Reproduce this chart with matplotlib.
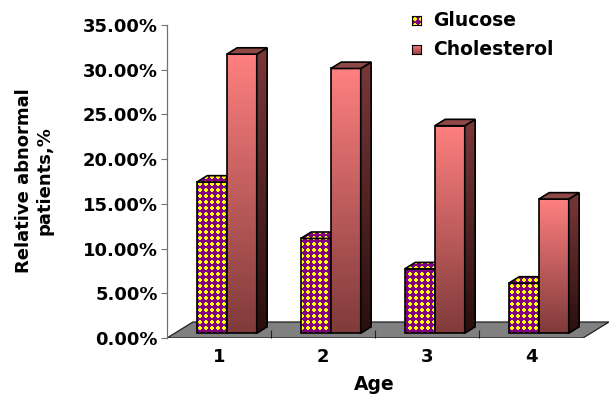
import numpy as np
import matplotlib
matplotlib.use('Agg')
import matplotlib.pyplot as plt
from matplotlib.patches import Polygon
from matplotlib.ticker import FixedLocator, StrMethodFormatter

ages = [1, 2, 3, 4]
glucose = [16.9, 10.6, 7.2, 5.6]
cholesterol = [31.2, 29.6, 23.2, 15.0]
yticks = [0, 5, 10, 15, 20, 25, 30, 35]

PURPLE = (128, 0, 128)
YELLOW = (255, 255, 0)
FONT = dict(family='DejaVu Sans', weight='bold')

W, H = 609, 396
fig = plt.figure(figsize=(W / 100, H / 100), dpi=100)
ax = fig.add_axes([167 / W, 1 - 338 / H, 442 / W, 313 / H])
XLIM, YLIM = (0.5, 4.75), (0, 35)
ax.set_xlim(*XLIM)
ax.set_ylim(*YLIM)


def px2data(dxp, dyp):
    inv = ax.transData.inverted()
    a, b = inv.transform([(0, 0), (dxp, dyp)])
    return b[0] - a[0], b[1] - a[1]


# purple / yellow dotted texture, one pixel per texel over the whole axes
ny, nx = 313, 442
yy, xx = np.mgrid[0:ny, 0:nx]
dots = (np.abs(xx % 6 - 2.5) + np.abs(yy % 6 - 2.5)) <= 2
texture = np.where(dots[..., None], np.array(YELLOW), np.array(PURPLE)).astype(np.uint8)


def vgrad(top, bottom, n=128):
    t = np.linspace(0, 1, n)[:, None]
    c = (1 - t) * np.array(top) + t * np.array(bottom)
    return (c[:, None, :] / 255.0)


def fill_face(verts, z, img=None, extent=None, color=None):
    poly = Polygon(verts, closed=True, facecolor=color if color else 'none',
                   edgecolor='black', lw=1.2, zorder=z + 0.01)
    ax.add_patch(poly)
    if img is not None:
        im = ax.imshow(img, extent=extent, origin='upper', aspect='auto',
                       interpolation='nearest' if img.dtype == np.uint8 else 'bilinear',
                       zorder=z)
        im.set_clip_path(poly)
    return poly


# floor
fdx, fdy = px2data(26, 16)
floor = Polygon([(0.5, 0), (4.5, 0), (4.5 + fdx, fdy), (0.5 + fdx, fdy)],
                closed=True, facecolor='#808080', edgecolor='#202020', lw=0.9, zorder=1)
ax.add_patch(floor)

bar_w = 0.288
near, far = 0.3, 0.7
sx, sy = near * fdx, near * fdy          # shift of bar front from floor front
dx, dy = (far - near) * fdx, (far - near) * fdy

chol_front = vgrad((255, 128, 128), (128, 58, 58))
chol_side = vgrad((122, 56, 56), (42, 14, 14))
chol_top = '#8e4848'

z = 3.0
for i, age in enumerate(ages):
    for k, (vals, kind) in enumerate([(glucose, 'g'), (cholesterol, 'c')]):
        x0 = age - bar_w + k * bar_w + sx
        x1 = x0 + bar_w
        y0 = sy
        y1 = y0 + vals[i]
        front = [(x0, y0), (x1, y0), (x1, y1), (x0, y1)]
        side = [(x1, y0), (x1 + dx, y0 + dy), (x1 + dx, y1 + dy), (x1, y1)]
        top = [(x0, y1), (x1, y1), (x1 + dx, y1 + dy), (x0 + dx, y1 + dy)]
        if kind == 'g':
            full = (XLIM[0], XLIM[1], YLIM[0], YLIM[1])
            fill_face(side, z, texture, full)
            fill_face(front, z + 0.1, texture, full)
            fill_face(top, z + 0.2, texture, full)
        else:
            fill_face(front, z, chol_front, (x0, x1, y0, y1))
            fill_face(side, z + 0.1, chol_side, (x1, x1 + dx, y0, y1 + dy))
            fill_face(top, z + 0.2, color=chol_top)
        z += 0.5

# axes styling
for s in ['top', 'right', 'bottom']:
    ax.spines[s].set_visible(False)
ax.spines['left'].set_color('#707070')
ax.spines['left'].set_linewidth(0.9)
ax.set_yticks(yticks)
ax.yaxis.set_major_formatter(StrMethodFormatter('{x:.2f}%'))
ax.tick_params(axis='y', direction='out', length=4, width=0.8, color='#707070',
               pad=2.5, labelsize=13)
ax.xaxis.set_major_locator(FixedLocator([1.5, 2.5, 3.5]))
ax.xaxis.set_minor_locator(FixedLocator(ages))
ax.xaxis.set_major_formatter(plt.NullFormatter())
ax.set_xticklabels([str(a) for a in ages], minor=True)
ax.tick_params(axis='x', which='major', direction='in', length=6, width=0.8, color='#202020')
ax.tick_params(axis='x', which='minor', length=0, pad=7, labelsize=13)
for lab in ax.get_yticklabels() + ax.get_xticklabels(minor=True):
    lab.set_fontweight('bold')

fig.text(34 / W, 1 - 181 / H, 'Relative abnormal\npatients,%', rotation=90,
         ha='center', va='center', multialignment='center', linespacing=1.2,
         fontsize=13, **FONT)
fig.text(374 / W, 1 - 385 / H, 'Age', ha='center', va='center', fontsize=13.5, **FONT)

# legend
leg_items = [('Glucose', 16), ('Cholesterol', 45)]
for label, ytop in leg_items:
    lax = fig.add_axes([412 / W, 1 - (ytop + 9) / H, 9 / W, 9 / H])
    if label == 'Glucose':
        lax.imshow(texture[:9, :9], interpolation='nearest', aspect='auto')
    else:
        lax.imshow(vgrad((250, 125, 125), (150, 65, 65)), interpolation='bilinear',
                   aspect='auto', extent=(0, 1, 0, 1))
    lax.set_xticks([])
    lax.set_yticks([])
    for s in lax.spines.values():
        s.set_linewidth(0.8)
    fig.text(433 / W, 1 - (ytop + 4.5) / H, label, ha='left', va='center',
             fontsize=13.5, **FONT)

fig.savefig('out.png', dpi=100)
